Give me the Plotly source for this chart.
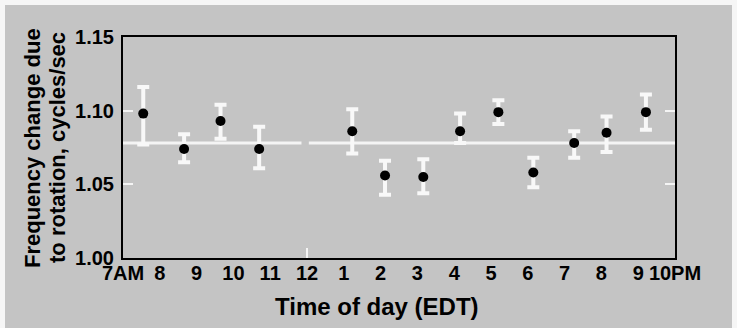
import plotly.graph_objects as go

# Data
hours = [7.55, 8.66, 9.65, 10.70, 13.23, 14.12, 15.16, 16.16, 17.20, 18.15, 19.26, 20.14, 21.21]
freq = [1.098, 1.074, 1.093, 1.074, 1.086, 1.056, 1.055, 1.086, 1.099, 1.058, 1.078, 1.085, 1.099]
err_hi = [1.116, 1.084, 1.104, 1.089, 1.101, 1.066, 1.067, 1.098, 1.107, 1.068, 1.086, 1.096, 1.111]
err_lo = [1.077, 1.065, 1.081, 1.061, 1.071, 1.043, 1.044, 1.078, 1.091, 1.048, 1.068, 1.072, 1.087]
mean_freq = 1.078

x_tickvals = list(range(7, 23))
x_ticktext = ["7AM", "8", "9", "10", "11", "12", "1", "2", "3", "4", "5", "6", "7", "8", "9", "10PM"]
y_tickvals = [1.00, 1.05, 1.10, 1.15]
y_ticktext = ["1.00", "1.05", "1.10", "1.15"]
y_inner_ticks = [1.05, 1.10]

BG = "#c4c4c4"
FONT = "Liberation Sans"

W, H = 737, 328
L, R, T, B = 123, 62, 37, 70
PW, PH = W - L - R, H - T - B

def px_x(p):
    return (p - L) / PW

def px_y(p):
    return (H - B - p) / PH

fig = go.Figure()

fig.add_trace(go.Scatter(
    x=hours, y=freq, mode="markers",
    marker=dict(color="black", size=10),
    error_y=dict(
        type="data", symmetric=False,
        array=[h - f for h, f in zip(err_hi, freq)],
        arrayminus=[f - l for f, l in zip(freq, err_lo)],
        color="#f8f8f8", thickness=4, width=6,
    ),
    showlegend=False, cliponaxis=False,
))

# invisible trace for the overlay axis carrying inner white ticks
fig.add_trace(go.Scatter(x=[hours[0]], y=[freq[0]], yaxis="y2", mode="markers",
                         marker=dict(opacity=0), showlegend=False, hoverinfo="skip"))

shapes = [
    # outer page background with light edges
    dict(type="rect", xref="paper", yref="paper", layer="below",
         x0=px_x(5), x1=px_x(732), y0=px_y(340), y1=px_y(5),
         fillcolor=BG, line=dict(width=0)),
    # mean reference line (with small gap near noon)
    dict(type="line", xref="x", yref="y", x0=7, x1=11.85, y0=mean_freq, y1=mean_freq,
         line=dict(color="#f4f4f4", width=3), layer="below"),
    dict(type="line", xref="x", yref="y", x0=12.05, x1=22, y0=mean_freq, y1=mean_freq,
         line=dict(color="#f4f4f4", width=3), layer="below"),
    # small white tick at noon
    dict(type="line", xref="x", yref="paper", x0=12, x1=12, y0=0, y1=0.045,
         line=dict(color="#f4f4f4", width=2)),
]

annotations = [
    dict(text="Frequency change due", xref="paper", yref="paper",
         x=px_x(32), y=px_y(148), textangle=-90, showarrow=False,
         xanchor="center", yanchor="middle",
         font=dict(family=FONT, size=22, color="black", weight="bold")),
    dict(text="to rotation, cycles/sec", xref="paper", yref="paper",
         x=px_x(57), y=px_y(148), textangle=-90, showarrow=False,
         xanchor="center", yanchor="middle",
         font=dict(family=FONT, size=22, color="black", weight="bold")),
    dict(text="Time of day (EDT)", xref="paper", yref="paper",
         x=px_x(377), y=px_y(306), showarrow=False,
         xanchor="center", yanchor="middle",
         font=dict(family=FONT, size=24, color="black", weight="bold")),
]

fig.update_layout(
    width=W, height=H,
    margin=dict(l=L, r=R, t=T, b=B, pad=0),
    paper_bgcolor="#f6f6f6",
    plot_bgcolor=BG,
    shapes=shapes,
    annotations=annotations,
    xaxis=dict(
        range=[7, 22], tickvals=x_tickvals, ticktext=x_ticktext,
        showgrid=False, zeroline=False, ticks="",
        showline=True, linecolor="black", linewidth=2, mirror=True,
        ticklabelstandoff=-4,
        tickfont=dict(family=FONT, size=20, color="black", weight="bold"),
    ),
    yaxis=dict(
        range=[1.00, 1.15], tickvals=y_tickvals, ticktext=y_ticktext,
        showgrid=False, zeroline=False, ticks="",
        showline=True, linecolor="black", linewidth=2, mirror=True,
        ticklabelstandoff=3,
        tickfont=dict(family=FONT, size=20, color="black", weight="bold"),
    ),
    yaxis2=dict(
        range=[1.00, 1.15], overlaying="y", side="left", tickvals=y_inner_ticks,
        showticklabels=False, ticks="inside", ticklen=10, tickwidth=2,
        tickcolor="#f4f4f4", mirror="ticks", showline=False,
        showgrid=False, zeroline=False,
    ),
)

fig.write_html(
    "out.html",
    config={"displayModeBar": False},
    post_script="document.body.style.margin='0';document.body.style.overflow='hidden';",
)
